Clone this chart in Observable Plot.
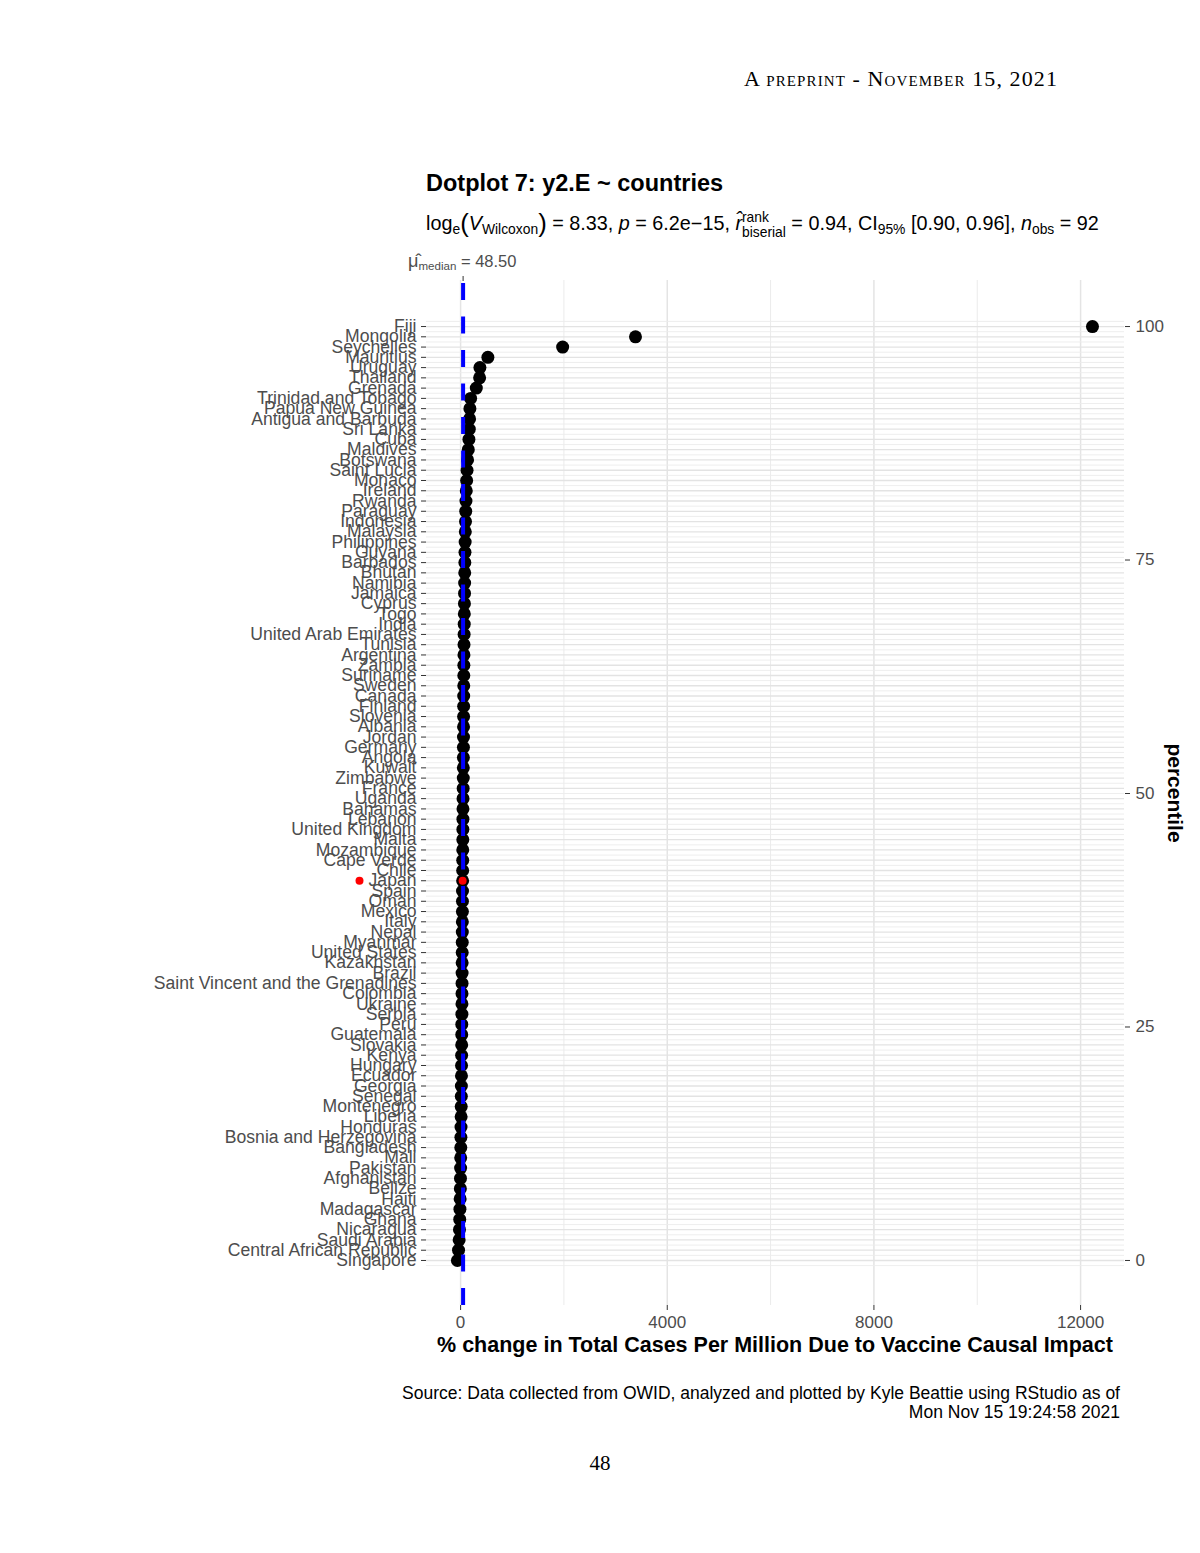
<!DOCTYPE html>
<html><head><meta charset="utf-8">
<script src="https://cdn.jsdelivr.net/npm/d3@7"></script>
<script src="https://cdn.jsdelivr.net/npm/@observablehq/plot@0.6"></script>
<style>
body{margin:0;background:#fff;}
#page{position:relative;width:1200px;height:1553px;overflow:hidden;font-family:"Liberation Sans",Arial,Helvetica,sans-serif;color:#000;}
.abs{position:absolute;white-space:nowrap;line-height:1;}
.sb{font-size:0.7em;position:relative;top:0.3em;}
.serif{font-family:"Liberation Serif","Times New Roman",serif;}
</style></head><body><div id="page">
<div class="abs serif" id="header" style="right:142px;top:68px;font-size:22px;font-variant:small-caps;letter-spacing:1.1px;">A preprint - November 15, 2021</div>
<div class="abs" id="title" style="left:426px;top:172px;font-size:23.5px;font-weight:bold;">Dotplot 7: y2.E ~ countries</div>
<div class="abs" id="subtitle" style="left:426px;top:209px;font-size:19.8px;">log<span class="sb">e</span><span style="font-size:1.3em;position:relative;top:0.06em">(</span><i>V</i><span class="sb">Wilcoxon</span><span style="font-size:1.3em;position:relative;top:0.06em">)</span> = 8.33, <i>p</i> = 6.2e−15, <i>r̂</i><span style="display:inline-block;vertical-align:-0.5em;font-size:0.7em;line-height:1.05;">rank<br>biserial</span> = 0.94, CI<span class="sb">95%</span> [0.90, 0.96], <i>n</i><span class="sb">obs</span> = 92</div>
<div class="abs" id="medlab" style="left:408px;top:252px;font-size:16.5px;color:#4d4d4d;"><span style="font-size:1.1em">μ̂</span><span class="sb">median</span> = 48.50</div>
<div id="chart" style="position:absolute;left:0;top:0;"></div>
<div class="abs" id="xlabel" style="left:775px;top:1335px;transform:translateX(-50%);font-size:21.5px;font-weight:bold;">% change in Total Cases Per Million Due to Vaccine Causal Impact</div>
<div class="abs" id="ylabel" style="left:1175px;top:793px;transform:translate(-50%,-50%) rotate(90deg);font-size:21px;font-weight:bold;">percentile</div>
<div class="abs" id="caption" style="right:80px;top:1384px;font-size:17.5px;line-height:19px;text-align:right;">Source: Data collected from OWID, analyzed and plotted by Kyle Beattie using RStudio as of<br>Mon Nov 15 19:24:58 2021</div>
<div class="abs serif" id="pagenum" style="left:600px;top:1453px;transform:translateX(-50%);font-size:21px;">48</div>
</div>
<script>
// Countries ordered from highest to lowest value (top to bottom)
const countries = ["Fiji","Mongolia","Seychelles","Mauritius","Uruguay","Thailand","Grenada","Trinidad and Tobago","Papua New Guinea","Antigua and Barbuda","Sri Lanka","Cuba","Maldives","Botswana","Saint Lucia","Monaco","Ireland","Rwanda","Paraguay","Indonesia","Malaysia","Philippines","Guyana","Barbados","Bhutan","Namibia","Jamaica","Cyprus","Togo","India","United Arab Emirates","Tunisia","Argentina","Zambia","Suriname","Sweden","Canada","Finland","Slovenia","Albania","Jordan","Germany","Angola","Kuwait","Zimbabwe","France","Uganda","Bahamas","Lebanon","United Kingdom","Malta","Mozambique","Cape Verde","Chile","Japan","Spain","Oman","Mexico","Italy","Nepal","Myanmar","United States","Kazakhstan","Brazil","Saint Vincent and the Grenadines","Colombia","Ukraine","Serbia","Peru","Guatemala","Slovakia","Kenya","Hungary","Ecuador","Georgia","Senegal","Montenegro","Liberia","Honduras","Bosnia and Herzegovina","Bangladesh","Mali","Pakistan","Afghanistan","Belize","Haiti","Madagascar","Ghana","Nicaragua","Saudi Arabia","Central African Republic","Singapore"];
const values = [12230,3385,1975,528,374,368,304,194,180,174,168,161,149,135,125,117,110,104,99,95,91,88,85,82,80,78,76,74,72,70,68,66,65,63,62,61,60,59,58,57,56,55,54,53,52,50,47,46,45,44,43,42,41,40,39,37,36,35,34,33,32,31,30,29,28,27,26,25,23,22,21,20,18,17,15,14,12,10,8,6,4,2,0,-2,-5,-9,-13,-17,-22,-28,-40,-62];
const highlight = ["Japan"];
const xTicksMajor = [0,4000,8000,12000];
const xTicksMinor = [2000,6000,10000];
const pctTicks = [0,25,50,75,100];
const xDomain = [-660, 12850];
const yDomain = [-4.82, 104.93];

const n = countries.length;
const data = countries.map((c, i) => ({country: c, value: values[i], pct: (n - 1 - i) / (n - 1) * 100}));
const halfSteps = d3.range(n + 1).map(k => (k - 0.5) / (n - 1) * 100);
const nameByPct = new Map(data.map(d => [d.pct, d.country]));
const median = d3.median(values);
const hi = data.filter(d => highlight.includes(d.country));

const chart = Plot.plot({
  width: 1200,
  height: 1340,
  marginLeft: 426,
  marginRight: 76,
  marginTop: 280,
  marginBottom: 35,
  style: {fontFamily: '"Liberation Sans", Arial, sans-serif', fontSize: "17px", background: "transparent", overflow: "visible"},
  x: {domain: xDomain},
  y: {domain: yDomain},
  marks: [
    Plot.gridX({ticks: xTicksMinor, stroke: "#ebebeb", strokeOpacity: 1, strokeWidth: 1}),
    Plot.gridX({ticks: xTicksMajor, stroke: "#e4e4e4", strokeOpacity: 1, strokeWidth: 1.5}),
    Plot.gridY({ticks: halfSteps, stroke: "#ececec", strokeOpacity: 1, strokeWidth: 0.9}),
    Plot.gridY({ticks: data.map(d => d.pct), stroke: "#e3e3e3", strokeOpacity: 1, strokeWidth: 1.3}),
    Plot.axisX({anchor: "bottom", ticks: xTicksMajor, tickFormat: d => String(d), tickSize: 5, tickPadding: 5, stroke: "#333", fill: "#4d4d4d", fontSize: 17, label: null}),
    Plot.axisX({anchor: "top", ticks: [median], tickFormat: () => "", tickSize: 5, stroke: "#333", label: null}),
    Plot.axisY({anchor: "left", ticks: data.map(d => d.pct), tickFormat: d => nameByPct.get(d), tickSize: 5, tickPadding: 5, stroke: "#333", fill: "#4d4d4d", fontSize: 17.6, label: null}),
    Plot.axisY({anchor: "right", ticks: pctTicks, tickFormat: d => String(d), tickSize: 5, tickPadding: 6, stroke: "#333", fill: "#4d4d4d", fontSize: 17, label: null}),
    Plot.dot(data, {x: "value", y: "pct", r: 6.5, fill: "black", stroke: "none"}),
    Plot.ruleX([median], {x: d => d, y1: () => yDomain[0], y2: () => yDomain[1], stroke: "#0000ff", strokeWidth: 4, strokeDasharray: "17,16.5"}),
    Plot.dot(hi, {x: "value", y: "pct", r: 4, fill: "#ff0000", stroke: "none"}),
    Plot.dot(hi, {y: "pct", frameAnchor: "left", dx: -67, r: 4, fill: "#ff0000", stroke: "none"})
  ]
});
document.getElementById("chart").appendChild(chart);
</script>
</body></html>
